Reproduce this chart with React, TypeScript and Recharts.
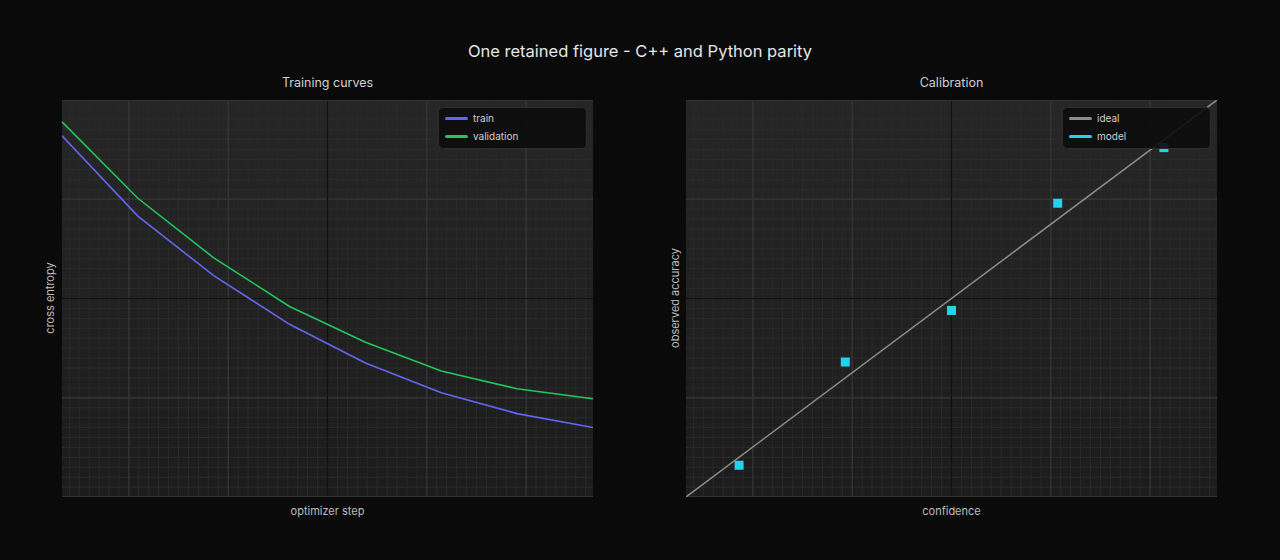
import React from "react";
import {
  ComposedChart,
  LineChart,
  Line,
  Scatter,
  XAxis,
  YAxis,
  ZAxis,
  CartesianGrid,
  ReferenceLine,
  Legend,
} from "recharts";

// training curves (cross entropy per optimizer step)
const steps = [0, 1, 2, 3, 4, 5, 6, 7];
const trainLoss = [3.64, 2.83, 2.23, 1.74, 1.35, 1.05, 0.84, 0.7];
const valLoss = [3.78, 3.01, 2.41, 1.92, 1.56, 1.27, 1.09, 0.99];

// calibration bins
const confidenceBins = [0.1, 0.3, 0.5, 0.7, 0.9];
const observedAccuracy = [0.08, 0.34, 0.47, 0.74, 0.88];
const idealLine = [0, 1];

const PLOT_W = 531;
const PLOT_H = 397;
const FONT = "Inter, 'Noto Sans', sans-serif";

const curveData = steps.map((s, i) => ({ step: s, train: trainLoss[i], validation: valLoss[i] }));
const modelData = confidenceBins.map((c, i) => ({ x: c, y: observedAccuracy[i] }));
const idealData = idealLine.map((v) => ({ x: v, y: v }));

// decorative background grid, centred on the plot, ~99px majors split in 10
function gridLines(size: number) {
  const step = 99.3 / 10;
  const mid = size / 2;
  const minor: number[] = [];
  const major: number[] = [];
  for (let k = -30; k <= 30; k++) {
    const p = mid + k * step;
    if (p <= 0.5 || p >= size - 0.5) continue;
    if (k === 0) continue;
    if (k % 10 === 0) major.push(p);
    else minor.push(p);
  }
  return { minor, major, center: [mid] };
}

const gx = gridLines(PLOT_W);
const gy = gridLines(PLOT_H);

function renderGrids() {
  return [
    <CartesianGrid key="minor" stroke="#2a2a2a" strokeWidth={1} verticalPoints={gx.minor} horizontalPoints={gy.minor} />,
    <CartesianGrid key="major" stroke="#383838" strokeWidth={1.2} verticalPoints={gx.major} horizontalPoints={gy.major} />,
    <CartesianGrid key="center" stroke="#111111" strokeWidth={1.2} verticalPoints={gx.center} horizontalPoints={gy.center} />,
  ];
}

function LegendBox({ payload }: { payload?: { value: string; color: string }[] }) {
  return (
    <div
      style={{
        width: 149,
        height: 42,
        boxSizing: "border-box",
        background: "rgba(12,12,12,0.9)",
        border: "1px solid #2c2c2c",
        borderRadius: 5,
        padding: "1px 0 0 6px",
        fontFamily: FONT,
        fontSize: 10,
        color: "#cfcfcf",
      }}
    >
      {(payload ?? []).map((p) => (
        <div key={p.value} style={{ display: "flex", alignItems: "center", height: 18 }}>
          <span style={{ width: 23, height: 3, background: p.color, borderRadius: 1.5, marginRight: 5 }} />
          <span>{p.value}</span>
        </div>
      ))}
    </div>
  );
}

const legendProps = {
  layout: "horizontal" as const,
  align: "center" as const,
  verticalAlign: "middle" as const,
  width: 149,
  height: 42,
  wrapperStyle: { top: 7, right: 6, left: "auto", bottom: "auto" },
  content: (props: any) => <LegendBox payload={props.payload} />,
};

const plotBox: React.CSSProperties = {
  position: "absolute",
  top: 100,
  width: PLOT_W,
  height: PLOT_H,
  background: "linear-gradient(#262626, #1c1c1c)",
};

function Label({ x, y, size, color, children, rotate }: any) {
  return (
    <div
      style={{
        position: "absolute",
        left: x,
        top: y,
        fontFamily: FONT,
        whiteSpace: "nowrap",
        fontSize: size,
        color,
        transform: rotate ? "translate(-50%, -50%) rotate(-90deg)" : "translate(-50%, -50%)",
      }}
    >
      {children}
    </div>
  );
}

export default function App() {
  return (
    <div style={{ position: "absolute", left: 0, top: 0, width: 1280, height: 560, background: "#0a0a0a", overflow: "hidden" }}>
      <Label x={640} y={51} size={16.5} color="#e6e6e6">One retained figure - C++ and Python parity</Label>
      <Label x={327.5} y={82} size={12.5} color="#d0d0d0">Training curves</Label>
      <Label x={951.5} y={82} size={12.5} color="#d0d0d0">Calibration</Label>
      <Label x={327.5} y={511} size={11} color="#bdbdbd">optimizer step</Label>
      <Label x={951.5} y={511} size={11} color="#bdbdbd">confidence</Label>
      <Label x={50} y={298} size={11} color="#bdbdbd" rotate>cross entropy</Label>
      <Label x={675} y={298} size={11} color="#bdbdbd" rotate>observed accuracy</Label>

      <div style={{ ...plotBox, left: 62 }}>
        <LineChart width={PLOT_W} height={PLOT_H} data={curveData} margin={{ top: 0, right: 0, bottom: 0, left: 0 }}>
          {renderGrids()}
          <XAxis type="number" dataKey="step" domain={[0, 7]} hide />
          <YAxis type="number" domain={[0, 4]} hide />
          <ReferenceLine y={4} stroke="#333" strokeWidth={2} />
          <ReferenceLine y={0} stroke="#333" strokeWidth={2} />
          <Line dataKey="train" name="train" stroke="#6366f1" strokeWidth={1.6} dot={false} isAnimationActive={false} />
          <Line dataKey="validation" name="validation" stroke="#22c55e" strokeWidth={1.6} dot={false} isAnimationActive={false} />
          <Legend {...legendProps} />
        </LineChart>
      </div>

      <div style={{ ...plotBox, left: 686 }}>
        <ComposedChart width={PLOT_W} height={PLOT_H} margin={{ top: 0, right: 0, bottom: 0, left: 0 }}>
          {renderGrids()}
          <XAxis type="number" dataKey="x" domain={[0, 1]} hide />
          <YAxis type="number" dataKey="y" domain={[0, 1]} hide />
          <ZAxis range={[81, 81]} />
          <ReferenceLine y={1} stroke="#333" strokeWidth={2} />
          <ReferenceLine y={0} stroke="#333" strokeWidth={2} />
          <Line data={idealData} dataKey="y" name="ideal" stroke="#8c8c8c" strokeWidth={1.5} dot={false} isAnimationActive={false} />
          <Scatter data={modelData} dataKey="y" name="model" fill="#22d3ee" shape="square" isAnimationActive={false} />
          <Legend {...legendProps} />
        </ComposedChart>
      </div>
    </div>
  );
}
